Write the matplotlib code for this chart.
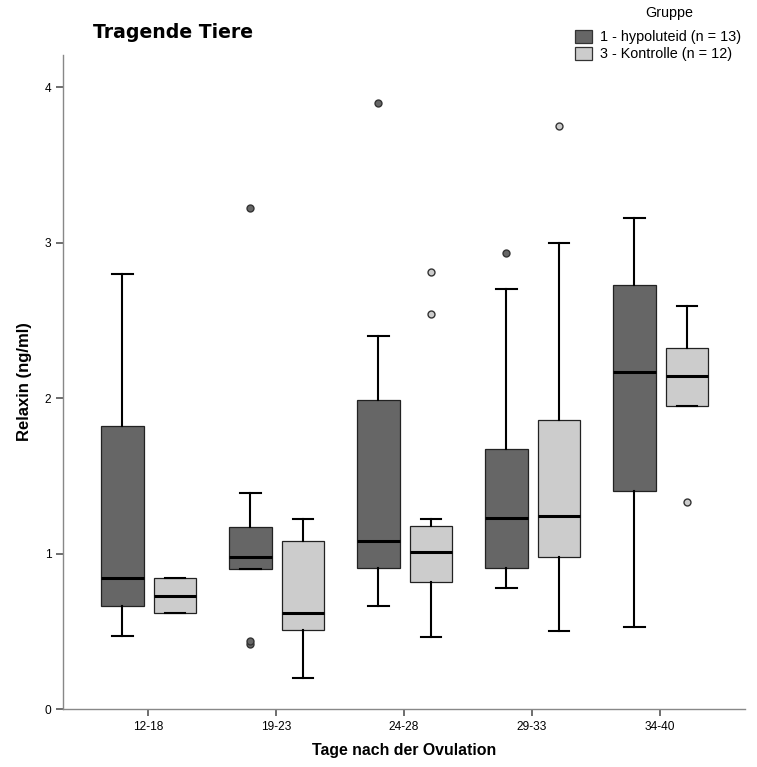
import matplotlib.pyplot as plt
from matplotlib.patches import Patch

plt.rcParams['font.family'] = ['Liberation Sans', 'DejaVu Sans']

# Zeitfenster (Tage nach der Ovulation)
categories = ['12-18', '19-23', '24-28', '29-33', '34-40']

# Gruppe 1 - hypoluteid
hypo_whislo = [0.47, 0.90, 0.66, 0.78, 0.53]
hypo_q1 = [0.66, 0.90, 0.91, 0.91, 1.40]
hypo_med = [0.84, 0.98, 1.08, 1.23, 2.17]
hypo_q3 = [1.82, 1.17, 1.99, 1.67, 2.73]
hypo_whishi = [2.80, 1.39, 2.40, 2.70, 3.16]
hypo_fliers = [[], [3.22, 0.42, 0.44], [3.90], [2.93], []]

# Gruppe 3 - Kontrolle
ktrl_whislo = [0.62, 0.20, 0.46, 0.50, 1.95]
ktrl_q1 = [0.62, 0.51, 0.82, 0.98, 1.95]
ktrl_med = [0.73, 0.62, 1.01, 1.24, 2.14]
ktrl_q3 = [0.84, 1.08, 1.18, 1.86, 2.32]
ktrl_whishi = [0.84, 1.22, 1.22, 3.00, 2.59]
ktrl_fliers = [[], [], [2.81, 2.54], [3.75], [1.33]]

groups = [
    ('1 - hypoluteid (n = 13)', '#666666',
     hypo_whislo, hypo_q1, hypo_med, hypo_q3, hypo_whishi, hypo_fliers, -0.2),
    ('3 - Kontrolle (n = 12)', '#cccccc',
     ktrl_whislo, ktrl_q1, ktrl_med, ktrl_q3, ktrl_whishi, ktrl_fliers, 0.21),
]

fig = plt.figure(figsize=(7.57, 7.67), dpi=100)
ax = fig.add_axes([0.0832, 0.0756, 0.9010, 0.8527])

handles = []
for label, color, wlo, q1, med, q3, whi, fl, offset in groups:
    stats = []
    for i in range(len(categories)):
        stats.append({'whislo': wlo[i], 'q1': q1[i], 'med': med[i],
                      'q3': q3[i], 'whishi': whi[i], 'fliers': fl[i]})
    positions = [i + offset for i in range(len(categories))]
    ax.bxp(stats, positions=positions, widths=0.33, patch_artist=True,
           boxprops=dict(facecolor=color, edgecolor='#222222', linewidth=0.9),
           medianprops=dict(color='black', linewidth=2.2),
           whiskerprops=dict(color='black', linewidth=1.5),
           capprops=dict(color='black', linewidth=1.5),
           capwidths=0.16,
           flierprops=dict(marker='o', markersize=5, markerfacecolor=color,
                           markeredgecolor='#333333', markeredgewidth=1.0),
           manage_ticks=False)
    handles.append(Patch(facecolor=color, edgecolor='#333333', linewidth=0.9,
                         label=label))

ax.set_xlim(-0.664, 4.664)
ax.set_ylim(0, 4.206)
ax.set_xticks(range(len(categories)))
ax.set_xticklabels(categories)
ax.set_yticks([0, 1, 2, 3, 4])

for side in ['top', 'right']:
    ax.spines[side].set_visible(False)
for side in ['left', 'bottom']:
    ax.spines[side].set_color('#888888')
    ax.spines[side].set_linewidth(1.0)
ax.tick_params(axis='both', colors='#555555', labelcolor='black',
               labelsize=8.6, length=5, width=1.2)

ax.set_xlabel('Tage nach der Ovulation', fontsize=11.4, fontweight='bold',
              labelpad=7)
ax.set_ylabel('Relaxin (ng/ml)', fontsize=12, fontweight='bold', labelpad=9)

fig.text(0.123, 0.957, 'Tragende Tiere', fontsize=13.6, fontweight='bold',
         va='center', ha='left', family='DejaVu Sans')

# Legende oben rechts
fig.text(669 / 757, 1 - 13 / 767, 'Gruppe', fontsize=10.3,
         ha='center', va='center')
fig.legend(handles=handles, loc='upper left',
           bbox_to_anchor=(575 / 757, 1 - 30 / 767), frameon=False,
           fontsize=10.4, handlelength=1.15, handleheight=1.0,
           handletextpad=0.55, labelspacing=0.15, borderpad=0,
           borderaxespad=0)

fig.savefig('out.png', dpi=100)
